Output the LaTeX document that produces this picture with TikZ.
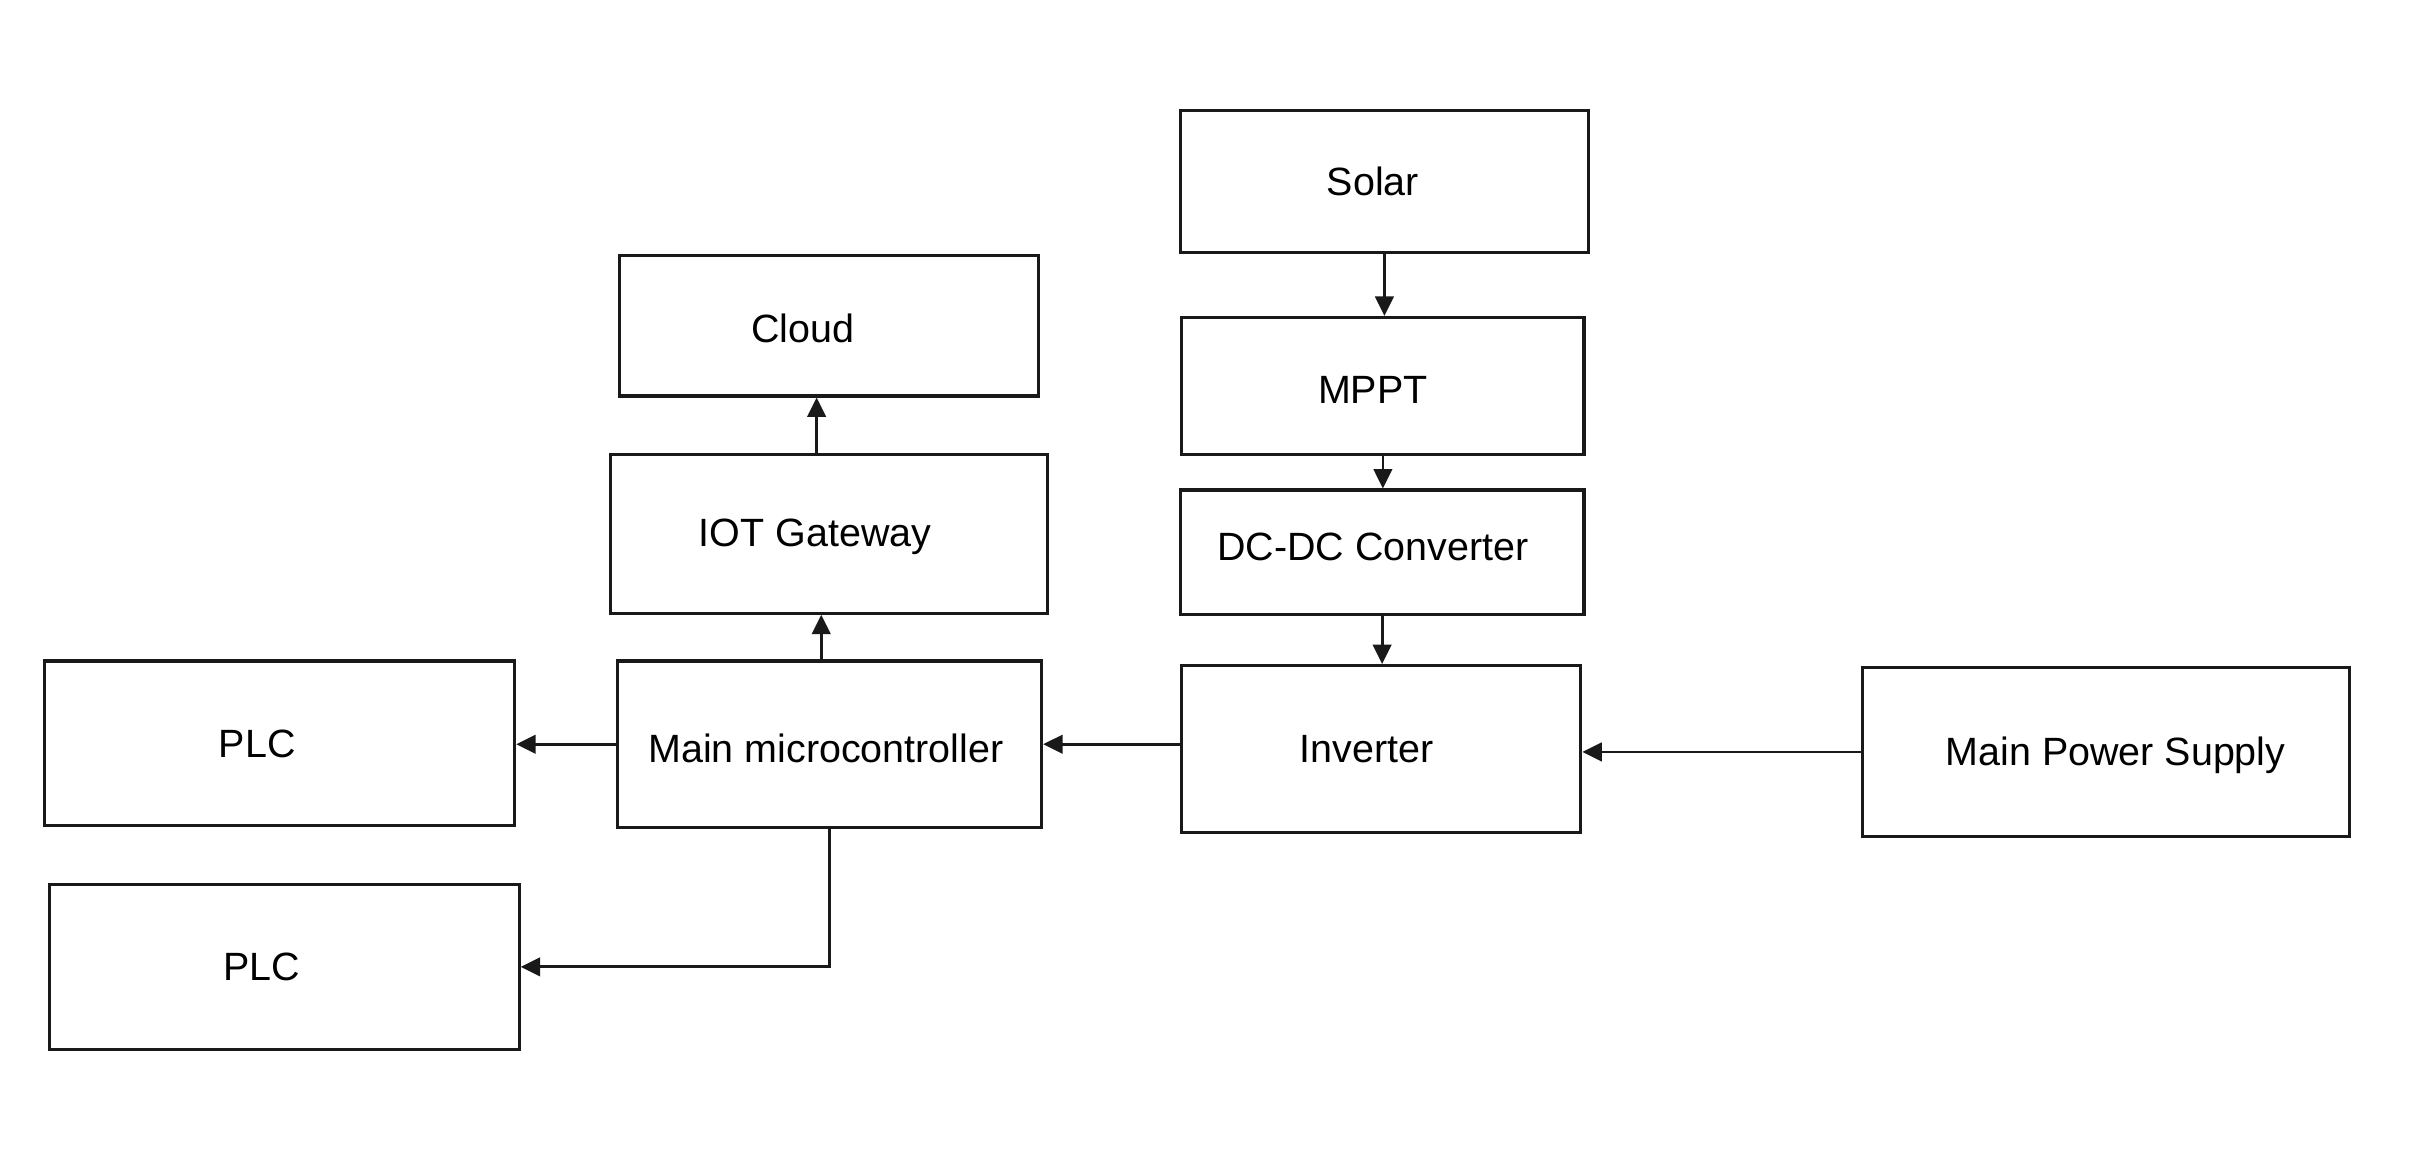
\documentclass[tikz,border=0pt]{standalone}
\usepackage{fontspec}
\setmainfont{Liberation Sans}
\usetikzlibrary{arrows.meta}

\tikzset{
  block/.style={draw=black!90, line width=1pt, rectangle, inner sep=0pt},
  flow/.style={color=black!90, line width=0.9pt},
}

\begin{document}
\begin{tikzpicture}[%
    x=0.5pt, y=-0.5pt,
    >={Triangle[length=6.3pt, width=6pt]},
    font=\fontsize{12.8}{15}\selectfont,
  ]
    \useasboundingbox (0,0) rectangle (1568,761);

    % power side
    \node[block, minimum width=132.5pt, minimum height=46pt,
      label={[xshift=-3.75pt]center:Solar}] (solar) at (898.5,118) {};
    \node[block, minimum width=130.5pt, minimum height=44.5pt,
      label={[xshift=-3.25pt, yshift=-1.25pt]center:MPPT}] (mppt) at (897.5,250.5) {};
    \node[block, minimum width=131pt, minimum height=40.5pt,
      label={[xshift=-3pt, yshift=1.75pt]center:DC-DC Converter}] (dcdc) at (897,358.5) {};
    \node[block, minimum width=129.5pt, minimum height=54pt,
      label={[xshift=-4.75pt]center:Inverter}] (inverter) at (896.5,486) {};
    \node[block, minimum width=158pt, minimum height=55pt,
      label={[xshift=3pt, yshift=-1pt]center:Main Power Supply}] (mps) at (1367,488) {};

    % control side
    \node[block, minimum width=136pt, minimum height=45.5pt,
      label={[xshift=-8.5pt, yshift=-0.75pt]center:Cloud}] (cloud) at (538,211.5) {};
    \node[block, minimum width=142pt, minimum height=51.5pt,
      label={[xshift=-4.5pt, yshift=-1pt]center:IOT Gateway}] (iot) at (538,346.5) {};
    \node[block, minimum width=137.5pt, minimum height=54pt,
      label={[xshift=-1.25pt, yshift=-1.5pt]center:Main microcontroller}] (micro) at (538.5,483) {};
    \node[block, minimum width=152.5pt, minimum height=53.5pt,
      label={[xshift=-7.25pt]center:PLC}] (plc1) at (181.5,482.5) {};
    \node[block, minimum width=152.5pt, minimum height=53.5pt,
      label={[xshift=-7.25pt]center:PLC}] (plc2) at (184.5,627.5) {};

    \path[flow, ->]
    (solar.south) edge (solar.south |- mppt.north)
    (mppt.south) edge (mppt.south |- dcdc.north)
    (dcdc.south) edge (dcdc.south |- inverter.north)
    (inverter.west |- micro.east) edge (micro.east)
    (mps.west) edge (inverter.east |- mps.west)
    (micro.west) edge (plc1.east |- micro.west)
    ([xshift=-2.75pt]micro.north) edge ([xshift=-2.75pt]micro.north |- iot.south)
    ([xshift=-4pt]iot.north) edge ([xshift=-4pt]iot.north |- cloud.south)
    ;
    \draw[flow, ->] (micro.south) |- (plc2.east);
  \end{tikzpicture}
\end{document}
